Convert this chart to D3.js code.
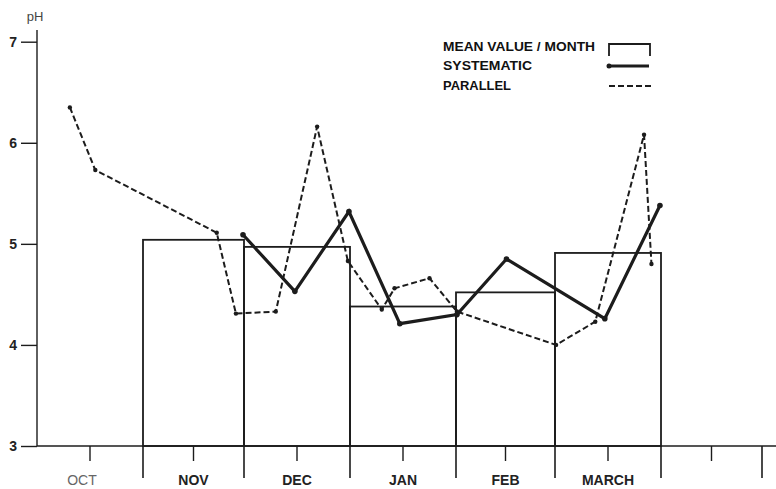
<!DOCTYPE html>
<html><head><meta charset="utf-8">
<script src="https://cdn.jsdelivr.net/npm/d3@7"></script>
<style>body{margin:0;background:#fff;} svg{display:block;font-family:"Liberation Sans",Arial,sans-serif;}</style>
</head><body><svg id="chart" width="776" height="489"></svg>
<script>
// ---- data ----
const monthLabels = ["OCT","NOV","DEC","JAN","FEB","MARCH"];
const yTickValues = [3,4,5,6,7];
const meanMonthIndex = [1,2,3,4,5];
const meanValues = [5.04,4.97,4.38,4.52,4.91];
const systematicX = [1.99,2.48,2.99,3.47,4.01,4.51,5.47,5.99];
const systematicY = [5.09,4.53,5.32,4.21,4.30,4.85,4.26,5.38];
const parallelX = [0.31,0.55,1.73,1.92,2.30,2.69,2.98,3.30,3.42,3.75,4.01,5.01,5.38,5.84,5.91];
const parallelY = [6.35,5.73,5.11,4.31,4.33,6.16,4.83,4.35,4.56,4.66,4.33,4.00,4.23,6.08,4.80];
const legendLabels = ["MEAN VALUE / MONTH","SYSTEMATIC","PARALLEL"];

// ---- scales ----
const svg = d3.select("#chart");
const ink = "#1c1c1c";
const x = d3.scaleLinear().domain([0,1,2,3,4,5,6,7]).range([37,143,244,350,456,555,661,762]);
const y = d3.scaleLinear().domain([3,7]).range([446,41.7]);

// ---- y axis ----
const yAxis = svg.append("g").attr("transform",`translate(${x(0)},0)`)
  .call(d3.axisLeft(y).tickValues(yTickValues).tickSize(16).tickPadding(4).tickFormat(d3.format("d")));
yAxis.select(".domain").remove();
yAxis.selectAll(".tick line").attr("stroke",ink).attr("stroke-width",1.4);
yAxis.selectAll(".tick text").attr("fill","#222").attr("font-size",14).attr("font-weight","bold")
  .attr("font-family","'Liberation Sans',Arial,sans-serif");
svg.append("line").attr("x1",x(0)).attr("x2",x(0)).attr("y1",30).attr("y2",y(3))
  .attr("stroke",ink).attr("stroke-width",1.4);
svg.append("text").attr("x",35).attr("y",21).attr("text-anchor","middle")
  .attr("font-size",13).attr("fill","#444").text("pH");

// ---- x axis ----
svg.append("line").attr("x1",x(0)).attr("x2",776).attr("y1",y(3)).attr("y2",y(3))
  .attr("stroke",ink).attr("stroke-width",1.4);
const boundaries = d3.range(1,8);
svg.append("g").selectAll("line").data(boundaries).join("line")
  .attr("x1",d=>x(d)).attr("x2",d=>x(d)).attr("y1",y(3)).attr("y2",y(3)+32)
  .attr("stroke",ink).attr("stroke-width",1.6);
const mids = d3.range(0,7).map(d=>d+0.5);
svg.append("g").selectAll("line").data(mids).join("line")
  .attr("x1",d=>x(d)).attr("x2",d=>x(d)).attr("y1",y(3)).attr("y2",y(3)+15)
  .attr("stroke",ink).attr("stroke-width",1.4);
svg.append("g").selectAll("text").data(monthLabels).join("text")
  .attr("x",(d,i)=>x(i+0.5)).attr("dx",(d,i)=>i===0?-8:0).attr("y",485).attr("text-anchor","middle")
  .attr("font-size",14).attr("font-weight",(d,i)=>i===0?"normal":"bold")
  .attr("fill",(d,i)=>i===0?"#666":"#222").text(d=>d);

// ---- mean bars ----
svg.append("g").selectAll("rect").data(meanValues).join("rect")
  .attr("x",(d,i)=>x(meanMonthIndex[i]))
  .attr("width",(d,i)=>x(meanMonthIndex[i]+1)-x(meanMonthIndex[i]))
  .attr("y",d=>y(d)).attr("height",d=>y(3)-y(d))
  .attr("fill","none").attr("stroke",ink).attr("stroke-width",1.8);

// ---- parallel (dashed) ----
const parallel = parallelX.map((v,i)=>[v,parallelY[i]]);
const line = d3.line().x(d=>x(d[0])).y(d=>y(d[1]));
svg.append("path").datum(parallel).attr("d",line).attr("fill","none")
  .attr("stroke",ink).attr("stroke-width",2).attr("stroke-dasharray","6,3");
svg.append("g").selectAll("circle").data(parallel).join("circle")
  .attr("cx",d=>x(d[0])).attr("cy",d=>y(d[1])).attr("r",2.2).attr("fill",ink);

// ---- systematic (thick) ----
const systematic = systematicX.map((v,i)=>[v,systematicY[i]]);
svg.append("path").datum(systematic).attr("d",line).attr("fill","none")
  .attr("stroke",ink).attr("stroke-width",3.2).attr("stroke-linejoin","miter");
svg.append("g").selectAll("circle").data(systematic).join("circle")
  .attr("cx",d=>x(d[0])).attr("cy",d=>y(d[1])).attr("r",2.8).attr("fill",ink);

// ---- legend ----
const legendWidths = [152,89,68];
const legendBase = [50.5,69.5,89.5];
svg.append("g").selectAll("text").data(legendLabels).join("text")
  .attr("x",443).attr("y",(d,i)=>legendBase[i])
  .attr("font-size",12).attr("font-weight","bold").attr("fill","#111")
  .attr("textLength",(d,i)=>legendWidths[i]).attr("lengthAdjust","spacingAndGlyphs")
  .text(d=>d);
svg.append("path").attr("d","M609,56V44H650V56").attr("fill","none")
  .attr("stroke",ink).attr("stroke-width",1.8);
svg.append("line").attr("x1",609).attr("x2",649).attr("y1",66).attr("y2",66)
  .attr("stroke",ink).attr("stroke-width",3.2);
svg.append("circle").attr("cx",609).attr("cy",66).attr("r",2.5).attr("fill",ink);
svg.append("line").attr("x1",609).attr("x2",652).attr("y1",86).attr("y2",86)
  .attr("stroke",ink).attr("stroke-width",2).attr("stroke-dasharray","6,3");
</script></body></html>
